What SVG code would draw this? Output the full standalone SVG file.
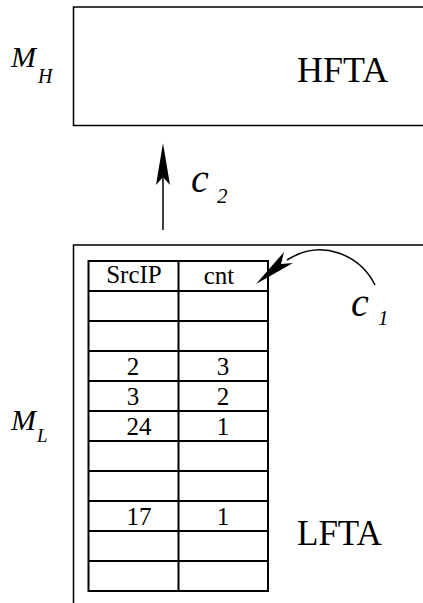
<svg xmlns="http://www.w3.org/2000/svg" width="423" height="603" viewBox="0 0 423 603">
<style>
.box{fill:none;stroke:#000;stroke-width:1.5}
.tbl{fill:none;stroke:#000;stroke-width:2}
.t{font-family:"Liberation Serif",serif;fill:#000}
.i{font-family:"Liberation Serif",serif;font-style:italic;fill:#000}
.c{font-family:"Liberation Serif",serif;font-size:25px;text-anchor:middle;fill:#000}
</style>
<rect width="423" height="603" fill="#fff"/>
<g id="hfta">
<rect class="box" x="73.5" y="7" width="360" height="118.5"/>
<text class="t" x="297" y="82" font-size="36">HFTA</text>
</g>
<g id="mh">
<text class="i" x="11" y="67" font-size="30">M</text>
<text class="i" x="38" y="83" font-size="20">H</text>
</g>
<g id="lfta">
<rect class="box" x="73.5" y="245" width="360" height="370"/>
<text class="t" x="297" y="545" font-size="35">LFTA</text>
</g>
<g id="ml">
<text class="i" x="11" y="430" font-size="30">M</text>
<text class="i" x="37" y="442" font-size="19">L</text>
</g>
<g id="table">
<rect class="tbl" x="88.5" y="261" width="179.5" height="330"/>
<line class="tbl" x1="178.5" y1="261" x2="178.5" y2="591"/>
<path class="tbl" d="M88.5 291H268M88.5 321H268M88.5 351H268M88.5 381H268M88.5 411H268M88.5 441H268M88.5 471H268M88.5 501H268M88.5 531H268M88.5 561H268"/>
<text class="c" x="134" y="283">SrcIP</text>
<text class="c" x="219" y="284">cnt</text>
<text class="c" x="133" y="375">2</text>
<text class="c" x="223" y="375">3</text>
<text class="c" x="133" y="405">3</text>
<text class="c" x="223" y="405">2</text>
<text class="c" x="139" y="435">24</text>
<text class="c" x="223" y="435">1</text>
<text class="c" x="139" y="525">17</text>
<text class="c" x="223" y="525">1</text>
</g>
<g id="connectors">
<line x1="163" y1="230" x2="163" y2="175" stroke="#000" stroke-width="1.5"/>
<polygon points="163,143 170,185 163,177 156,185" fill="#000"/>
<path d="M375,285 C360,255 322,238 287,260" fill="none" stroke="#000" stroke-width="1.5"/>
<polygon points="256,284 284,252 281,264 293,263" fill="#000"/>
</g>
<g id="labels">
<text class="i" x="191" y="192" font-size="40">c</text>
<text class="i" x="217" y="203" font-size="21">2</text>
<text class="i" x="351" y="316" font-size="40">c</text>
<text class="i" x="378" y="325" font-size="21">1</text>
</g>
</svg>
